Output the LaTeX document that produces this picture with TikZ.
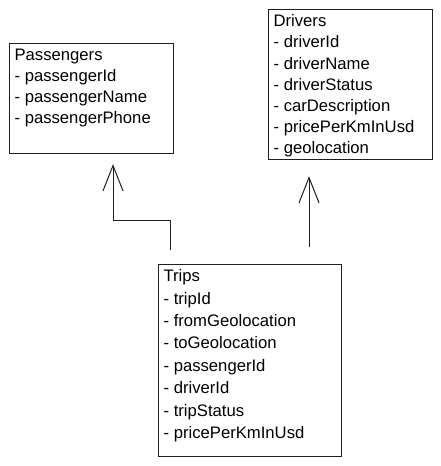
\documentclass[tikz,border=0pt]{standalone}
\usepackage{fontspec}
\setmainfont{Liberation Sans}
\usetikzlibrary{calc}
\usetikzlibrary{arrows.meta}
\definecolor{color_table_line}{HTML}{1e1e1e}
\def\tablepad{4pt}

\begin{document}
\begin{tikzpicture}[x=0.75pt, y=-0.75pt,
        tablebox/.style={draw=color_table_line, line width=0.9pt, anchor=north west, inner sep=0pt},
        tabletext/.style={anchor=north west, align=left, inner sep=\tablepad, font=\fontsize{12.5}{15.9}\selectfont},
        relation/.style={draw=color_table_line, line width=0.75pt, -{Straight Barb[length=19pt, width=15pt, line width=0.75pt]}}]
            % canvas
            \useasboundingbox (0,0) rectangle (441,466);
            % tables
            \node[tablebox, minimum width=123pt, minimum height=82.5pt] (passengers) at (9,43) {};
            \node[tabletext] (passengers_text) at (passengers.north west) {Passengers\\- passengerId\\- passengerName\\- passengerPhone};
            %
            \node[tablebox, minimum width=123pt, minimum height=112.5pt] (drivers) at (268,9) {};
            \node[tabletext] (drivers_text) at (drivers.north west) {Drivers\\- driverId\\- driverName\\- driverStatus\\- carDescription\\- pricePerKmInUsd\\- geolocation};
            %
            \node[tablebox, minimum width=137.25pt, minimum height=144pt] (trips) at (158,264) {};
            \node[tabletext, font=\fontsize{12.5}{16.8}\selectfont] (trips_text) at (trips.north west) {Trips\\- tripId\\- fromGeolocation\\- toGeolocation\\- passengerId\\- driverId\\- tripStatus\\- pricePerKmInUsd};
            % free ends of the relations
            \coordinate (trips_to_passengers) at ($(trips.north west)+(12,-14)$);
            \coordinate (passengers_in) at ($(passengers.south west)+(104,10)$);
            \coordinate (trips_to_drivers) at ($(trips.north west)+(151,-17)$);
            \coordinate (drivers_in) at ($(drivers.south west)+(41,16)$);
            % relations
            \draw[relation] (trips_to_passengers) -- ++(0,-30) -| (passengers_in);
            \draw[relation] (trips_to_drivers) -- (drivers_in);
    \end{tikzpicture}
\end{document}
